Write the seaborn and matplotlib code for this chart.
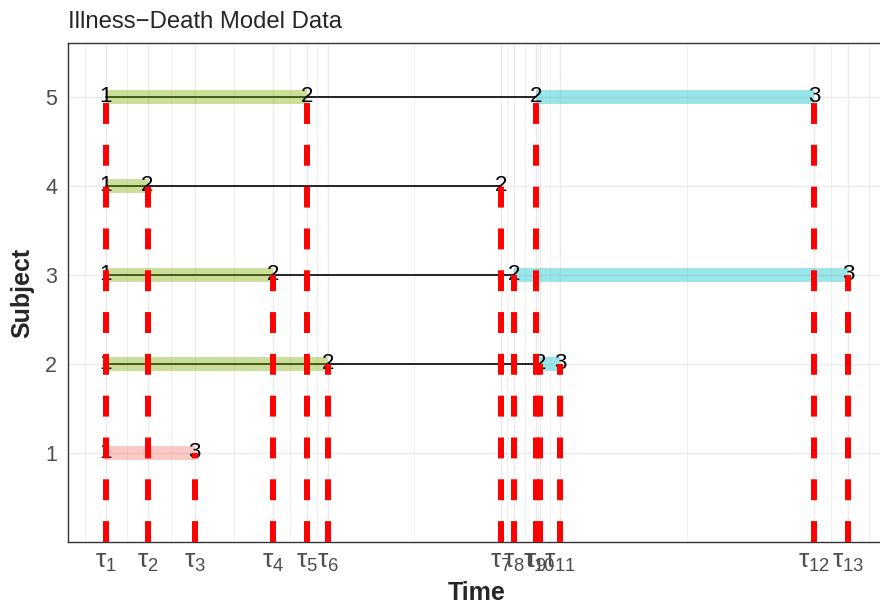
import matplotlib
matplotlib.use("Agg")
import matplotlib.pyplot as plt
import numpy as np
import pandas as pd
import seaborn as sns

# Visit times and observed states (1 = healthy, 2 = ill, 3 = dead) per subject
subject_ids = [1, 2, 3, 4, 5]
visit_times = {
    1: [0.00, 2.40],
    2: [0.00, 5.98, 11.69, 12.24],
    3: [0.00, 4.51, 11.00, 20.00],
    4: [0.00, 1.13, 10.64],
    5: [0.00, 5.42, 11.59, 19.09],
}
visit_states = {
    1: [1, 3],
    2: [1, 2, 2, 3],
    3: [1, 2, 2, 3],
    4: [1, 2, 2],
    5: [1, 2, 2, 3],
}
transition_names = ["1→2", "1→3", "2→3"]
transition_colors = ["#7CAE00", "#F8766D", "#00BFC4"]

# ---- long tables -------------------------------------------------------
obs = pd.DataFrame(
    [(s, t, st) for s in subject_ids
     for t, st in zip(visit_times[s], visit_states[s])],
    columns=["subject", "time", "state"],
)

# follow-up while alive: first visit to last visit in state 1 or 2
alive_rows = []
for s in subject_ids:
    alive = obs[(obs.subject == s) & (obs.state < 3)]
    alive_rows += [(s, alive.time.min(), s), (s, alive.time.max(), s)]
alive_df = pd.DataFrame(alive_rows, columns=["subject", "time", "y"])

# intervals in which a state change happened
seg_rows = []
seg = 0
for s in subject_ids:
    tt, ss = visit_times[s], visit_states[s]
    for a in range(len(tt) - 1):
        if ss[a] != ss[a + 1]:
            name = f"{ss[a]}→{ss[a + 1]}"
            seg_rows += [(seg, tt[a], s, name), (seg, tt[a + 1], s, name)]
            seg += 1
seg_df = pd.DataFrame(seg_rows, columns=["seg", "time", "y", "transition"])

# distinct visit times and the highest subject seen at each
tau = np.array(sorted(obs.time.unique()))
tau_top = [obs.loc[obs.time == t, "subject"].max() for t in tau]

# ---- styling -----------------------------------------------------------
sns.set_style("white")
plt.rcParams["font.family"] = ["Liberation Sans", "DejaVu Sans"]
plt.rcParams["mathtext.default"] = "regular"

fig = plt.figure(figsize=(8.8, 6.07), dpi=100)
ax = fig.add_axes([0.0778, 0.1071, 0.9283, 0.8213])

rng = tau.max() - tau.min()
xlo, xhi = tau.min() - 0.05 * rng, tau.max() + 0.05 * rng

# minor x breaks halfway between majors (extended by the first step)
step = tau[1] - tau[0]
ext = np.concatenate([[tau[0] - step], tau, [tau[-1] + step]])
minor = (ext[:-1] + ext[1:]) / 2

ax.set_xticks(tau)
ax.set_xticks(minor, minor=True)
ax.set_xticklabels([rf"$\tau_{{{i + 1}}}$" for i in range(len(tau))])
ax.set_yticks(subject_ids)
ax.set_xlim(xlo, xhi)
ax.set_ylim(0, 5.6)

ax.grid(which="major", color="#EBEBEB", linewidth=1.0, zorder=0)
ax.grid(which="minor", axis="x", color="#EBEBEB", linewidth=0.55, zorder=0)
ax.set_axisbelow(True)

# black follow-up lines
sns.lineplot(data=alive_df, x="time", y="y", units="subject", estimator=None,
             color="black", linewidth=1.2, sort=False, legend=False, ax=ax,
             zorder=2)

# coloured transition intervals
sns.lineplot(data=seg_df, x="time", y="y", hue="transition", units="seg",
             estimator=None, palette=dict(zip(transition_names, transition_colors)),
             hue_order=transition_names, linewidth=10, alpha=0.4,
             solid_capstyle="butt", sort=False, legend=False, ax=ax, zorder=3)

# observed state labels
for _, r in obs.iterrows():
    ax.text(r.time, r.subject, str(int(r.state)), ha="center", va="center",
            fontsize=16, color="black", zorder=4)

# dashed markers at each visit time
ax.vlines(tau, 0, tau_top, colors="#FF0000", linewidth=4.3,
          linestyles=[(0, (3.5, 3.5))], zorder=5)

for sp in ax.spines.values():
    sp.set_color("#333333")
    sp.set_linewidth(1.0)

ax.tick_params(which="major", length=5, width=1.0, color="#333333",
               labelcolor="#4D4D4D", pad=3)
ax.tick_params(axis="y", labelsize=15.5)
ax.tick_params(axis="x", labelsize=19, pad=1)
ax.tick_params(which="minor", length=0)

ax.set_xlabel("Time", fontsize=18, fontweight="bold", labelpad=5)
ax.set_ylabel("Subject", fontsize=18, fontweight="bold", labelpad=8)
ax.set_title("Illness−Death Model Data", loc="left", fontsize=17.2, pad=11)

fig.savefig("out.png", dpi=100)
